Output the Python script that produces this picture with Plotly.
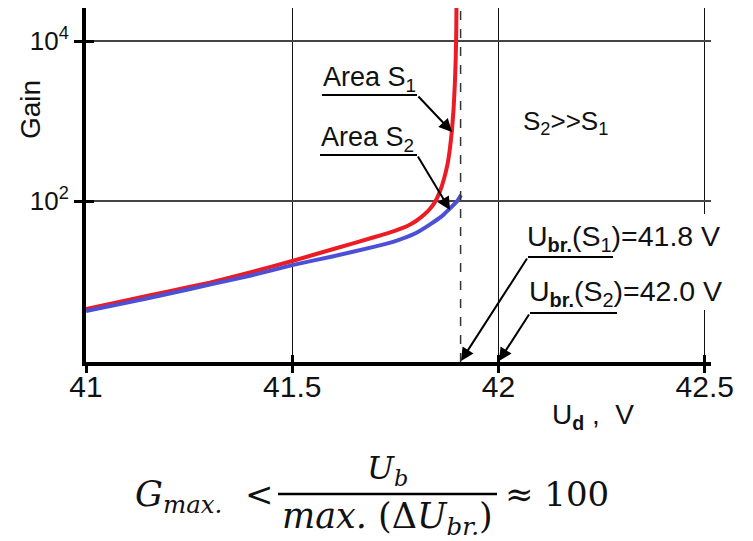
import plotly.graph_objects as go

# ---------------- data ----------------
ud_s1 = [41.0, 41.1, 41.2, 41.3, 41.4, 41.5, 41.6, 41.7, 41.75, 41.78, 41.8, 41.82,
         41.835, 41.845, 41.852, 41.86, 41.868, 41.876, 41.882, 41.887, 41.891,
         41.894, 41.896, 41.8975, 41.898]
gain_s1 = [4.47, 5.75, 7.41, 9.55, 12.9, 17.8, 25.1, 35.5, 42.7, 49.0, 56.2, 67.6,
           81.3, 95.5, 112, 141, 191, 282, 447, 759, 1413,
           2818, 5623, 12589, 28184]

ud_s2 = [41.0, 41.1, 41.2, 41.3, 41.4, 41.5, 41.6, 41.7, 41.75, 41.8,
         41.835, 41.867, 41.883, 41.9, 41.909]
gain_s2 = [4.22, 5.37, 6.92, 9.02, 11.7, 15.8, 20.4, 26.9, 31.6, 39.8,
           51.3, 67.6, 81.3, 100, 119]

ubr_asymptote = 41.908
x_ticks = [41, 41.5, 42, 42.5]
x_ticktext = ["41", "41.5", "42", "42.5"]
y_ticks = [100, 10000]
y_ticktext = ["10<sup>2</sup>", "10<sup>4</sup>"]

# ---------------- layout helpers (pixel -> paper) ----------------
W, H = 753, 541
L, R, T, B = 86, 711, 8, 362
def px(x):
    return (x - L) / (R - L)
def py(y):
    return (B - y) / (B - T)

SANS = "Liberation Sans, Arial, sans-serif"
SERIF = "DejaVu Serif, serif"

fig = go.Figure()
fig.add_trace(go.Scatter(x=ud_s1, y=gain_s1, mode="lines",
                         line=dict(color="#ec1c24", width=4, shape="spline", smoothing=0.4),
                         showlegend=False, hoverinfo="skip"))
fig.add_trace(go.Scatter(x=ud_s2, y=gain_s2, mode="lines",
                         line=dict(color="#4b50d6", width=4, shape="spline", smoothing=0.4),
                         showlegend=False, hoverinfo="skip"))
# invisible trace so the overlay axes (inside ticks) are drawn
fig.add_trace(go.Scatter(x=[41], y=[1], xaxis="x2", yaxis="y2", mode="markers",
                         marker=dict(opacity=0), showlegend=False, hoverinfo="skip"))

fig.update_layout(
    width=W, height=H,
    margin=dict(l=L, r=W - R, t=T, b=H - B),
    paper_bgcolor="white", plot_bgcolor="white",
    xaxis=dict(range=[41, 42.515], tickvals=x_ticks, ticktext=x_ticktext,
               showgrid=True, gridcolor="#111", gridwidth=1,
               showline=True, linecolor="black", linewidth=4,
               ticks="outside", ticklen=7, tickwidth=3, tickcolor="black",
               tickfont=dict(family=SANS, size=30, color="#111"),
               ticklabelstandoff=-12,
               zeroline=False, fixedrange=True),
    yaxis=dict(type="log", range=[-0.0125, 4.4125], tickvals=y_ticks, ticktext=y_ticktext,
               showgrid=True, gridcolor="#444", gridwidth=1.5,
               showline=True, linecolor="black", linewidth=4,
               ticks="outside", ticklen=8, tickwidth=3, tickcolor="black",
               tickfont=dict(family=SANS, size=26, color="#111"),
               zeroline=False, fixedrange=True),
    xaxis2=dict(overlaying="x", matches="x", anchor="y", side="bottom",
                tickvals=x_ticks, showticklabels=False, showgrid=False, showline=False,
                ticks="inside", ticklen=7, tickwidth=3, tickcolor="black", zeroline=False),
    yaxis2=dict(overlaying="y", matches="y", type="log", anchor="x", side="left",
                tickvals=y_ticks, showticklabels=False, showgrid=False, showline=False,
                ticks="inside", ticklen=8, tickwidth=3, tickcolor="black", zeroline=False),
)

shapes = []
# dashed asymptote
shapes.append(dict(type="line", xref="x", yref="paper", x0=ubr_asymptote, x1=ubr_asymptote,
                   y0=0, y1=1, line=dict(color="#333", width=1.5, dash="dash")))
# white gap in the 42.5 gridline behind the labels
shapes.append(dict(type="rect", xref="paper", yref="paper", x0=px(700), x1=px(716),
                   y0=py(310), y1=py(214), fillcolor="white", line=dict(width=0),
                   layer="above"))
# underlines of annotations
for (x0, x1, y) in [(322, 417, 95), (320, 417, 155), (528, 613, 257), (530, 617, 313)]:
    shapes.append(dict(type="line", xref="paper", yref="paper", x0=px(x0), x1=px(x1),
                       y0=py(y), y1=py(y), line=dict(color="black", width=2)))
# fraction bar
shapes.append(dict(type="line", xref="paper", yref="paper", x0=px(278), x1=px(497),
                   y0=py(494), y1=py(494), line=dict(color="black", width=2.5)))
fig.update_layout(shapes=shapes)

ann = []
def text(t, x, y, size=27, family=SANS, anchor="left", angle=0):
    ann.append(dict(text=t, xref="paper", yref="paper", x=px(x), y=py(y),
                    xanchor=anchor, yanchor="middle", showarrow=False, textangle=angle,
                    font=dict(family=family, size=size, color="#111")))
def arrow(tx, ty, hx, hy):
    ann.append(dict(text="", xref="paper", yref="paper", x=px(hx), y=py(hy),
                    ax=tx - hx, ay=ty - hy, showarrow=True, arrowhead=2,
                    arrowsize=1.3, arrowwidth=2, arrowcolor="black", standoff=0))

text("Area S<sub>1</sub>", 321, 79)
text("Area S<sub>2</sub>", 319, 139)
text("S<sub>2</sub>&gt;&gt;S<sub>1</sub>", 521, 123, size=26)
text("U<sub><b>br.</b></sub>(S<sub>1</sub>)=41.8 V", 525, 238, size=28.5)
text("U<sub><b>br.</b></sub>(S<sub>2</sub>)=42.0 V", 527, 293, size=28.5)
text("Gain", 30, 110, size=28, anchor="center", angle=-90)
text("U<sub><b>d</b></sub> ,  V", 550, 416, size=28)
arrow(417, 95, 452, 132)
arrow(417, 155, 450, 210)
arrow(528, 257, 461, 361)
arrow(530, 313, 499, 361)

# formula
text("<i>G</i><sub><i>max.</i></sub>", 133, 497, size=35, family=SERIF)
text("&lt;", 243, 494, size=34, family=SERIF)
text("<i>U</i><sub><i>b</i></sub>", 387, 470, size=32, family=SERIF, anchor="center")
text("<i>max.</i> (Δ<i>U</i><sub><i>br.</i></sub>)", 387, 518, size=35, family=SERIF, anchor="center")
text("≈ 100", 503, 494, size=34, family=SERIF)

fig.update_layout(annotations=ann)
fig.write_html("out.html")
